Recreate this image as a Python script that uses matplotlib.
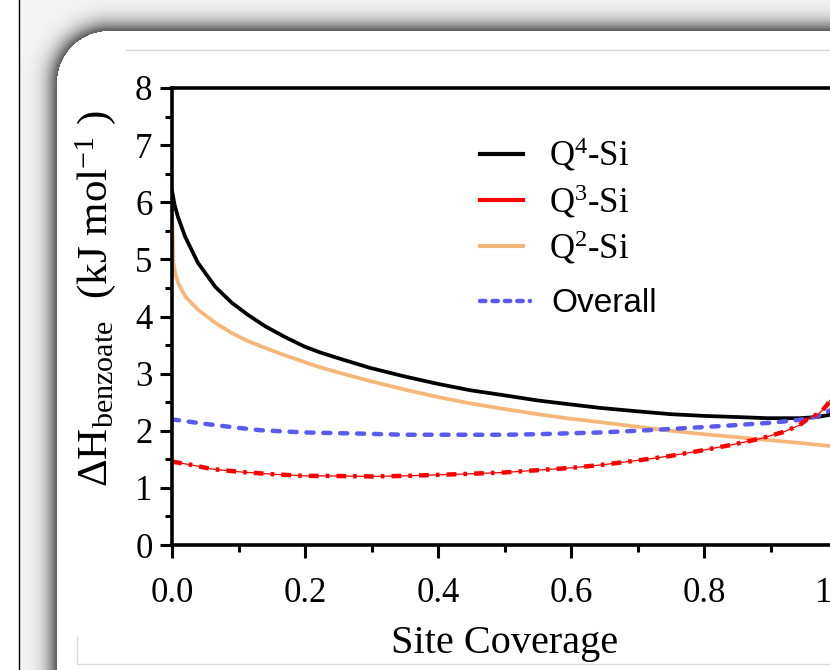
import numpy as np
import matplotlib
matplotlib.use("Agg")
import matplotlib.pyplot as plt
from matplotlib.lines import Line2D

plt.rcParams['font.family'] = ['Liberation Serif', 'DejaVu Serif']
plt.rcParams['mathtext.fontset'] = 'custom'
plt.rcParams['mathtext.rm'] = 'Liberation Serif'
plt.rcParams['mathtext.it'] = 'Liberation Serif:italic'

# values
q4_x = [0.0, 0.004, 0.009, 0.02, 0.039, 0.065, 0.09, 0.114, 0.14, 0.17, 0.2, 0.223,
        0.25, 0.298, 0.35, 0.4, 0.448, 0.5, 0.55, 0.6, 0.644, 0.7, 0.75, 0.8, 0.85,
        0.895, 0.944, 0.97, 0.99, 1.0]
q4_y = [6.2, 5.95, 5.74, 5.39, 4.94, 4.52, 4.24, 4.03, 3.83, 3.64, 3.47, 3.37,
        3.27, 3.10, 2.95, 2.82, 2.71, 2.62, 2.53, 2.46, 2.40, 2.34, 2.29, 2.26, 2.24,
        2.22, 2.22, 2.24, 2.28, 2.32]

q3_x = [0.0, 0.03, 0.06, 0.102, 0.15, 0.2, 0.233, 0.3, 0.35, 0.433, 0.5, 0.55, 0.6,
        0.644, 0.7, 0.75, 0.794, 0.84, 0.884, 0.92, 0.944, 0.955, 0.974, 0.985, 0.993, 1.0]
q3_y = [1.46, 1.40, 1.33, 1.28, 1.24, 1.21, 1.21, 1.20, 1.21, 1.24, 1.27, 1.31, 1.35,
        1.40, 1.48, 1.56, 1.65, 1.75, 1.86, 1.98, 2.10, 2.20, 2.31, 2.45, 2.6, 2.75]

q2_x = [0.0, 0.001, 0.002, 0.005, 0.009, 0.02, 0.039, 0.065, 0.09, 0.114, 0.14, 0.17,
        0.2, 0.223, 0.25, 0.298, 0.35, 0.4, 0.448, 0.5, 0.55, 0.6, 0.644, 0.7, 0.75,
        0.8, 0.884, 0.95, 1.0]
q2_y = [5.84, 5.40, 4.95, 4.75, 4.59, 4.35, 4.12, 3.89, 3.71, 3.57, 3.45, 3.32,
        3.20, 3.11, 3.02, 2.87, 2.72, 2.59, 2.48, 2.38, 2.29, 2.21, 2.15, 2.07, 2.00,
        1.94, 1.85, 1.78, 1.72]

ov_x = [0.0, 0.05, 0.1, 0.132, 0.2, 0.283, 0.35, 0.433, 0.5, 0.55, 0.644, 0.7, 0.794,
        0.85, 0.9, 0.944, 0.97, 0.99, 1.0]
ov_y = [2.20, 2.12, 2.05, 2.01, 1.97, 1.95, 1.93, 1.93, 1.93, 1.94, 1.97, 2.00, 2.06,
        2.10, 2.14, 2.19, 2.25, 2.36, 2.42]

x_ticks = [0.0, 0.2, 0.4, 0.6, 0.8, 1.0]
x_ticklabels = ['0.0', '0.2', '0.4', '0.6', '0.8', '1.0']
y_ticks = [0, 1, 2, 3, 4, 5, 6, 7, 8]

W, H = 830, 670
fig = plt.figure(figsize=(W / 100, H / 100), dpi=100)

# slide frame: shadowed rounded panel
bg = fig.add_axes([0, 0, 1, 1], zorder=0)
yy, xx = np.mgrid[0:H, 0:W] + 0.5
r = 52.0
qx = (57 + r) - xx
qy = (31 + r) - yy
d = np.hypot(np.maximum(qx, 0), np.maximum(qy, 0)) + np.minimum(np.maximum(qx, qy), 0) - r
shade = np.where(d <= 0, 255.0, 245 - 150 * np.exp(-(np.maximum(d, 0) / 11.0) ** 1.3))
shade[:, :19] = 255
img = np.dstack([shade, shade, shade]) / 255.0
bg.imshow(img, extent=(0, W, H, 0), interpolation='bilinear')
bg.plot([18.5, 18.5], [0, H], color='black', lw=1)
bg.plot([126, W], [49.5, 49.5], color='#d8d8d8', lw=1)
bg.plot([76.5, 76.5, W], [637, 663.5, 663.5], color='#d8d8d8', lw=1)
bg.set_xlim(0, W)
bg.set_ylim(H, 0)
bg.axis('off')

ax = fig.add_axes([172 / W, 1 - 545 / H, 665 / W, 457 / H], zorder=1)
ax.set_facecolor('none')

ax.plot(q4_x, q4_y, color='black', lw=2.7)
ax.plot(q2_x, q2_y, color='#f5b779', lw=2.7)
ax.plot(ov_x, ov_y, color='#5a5af2', lw=3.2, dashes=(1.6, 2.2), dash_capstyle='round')
ax.plot(q3_x, q3_y, color='red', lw=0.9)
ax.plot(q3_x, q3_y, color='red', lw=3.2, dashes=(2.2, 1.6, 0.8, 1.6))

ax.set_xlim(0, 1)
ax.set_ylim(0, 8)
ax.set_xticks(x_ticks)
ax.set_xticklabels(x_ticklabels)
ax.set_xticks(np.arange(0.1, 1.0, 0.2), minor=True)
ax.set_yticks(y_ticks)
ax.set_yticks(np.arange(0.5, 8, 1.0), minor=True)
ax.tick_params(which='both', direction='out', width=2.2, top=False, right=False)
ax.tick_params(which='major', length=9, labelsize=25)
ax.tick_params(axis='x', which='major', pad=14)
ax.tick_params(axis='y', which='major', pad=5)
ax.tick_params(which='minor', length=5)
for s in ax.spines.values():
    s.set_linewidth(2.6)

ax.set_xlabel('Site Coverage', fontsize=29)
ax.xaxis.set_label_coords(0.5, -0.175)
ax.set_ylabel(r'ΔH$_{\mathrm{benzoate}}$  (kJ mol$^{\mathrm{-1}}$ )', fontsize=31)
ax.yaxis.set_label_coords(-0.081, 0.54)

q_handles = [
    Line2D([], [], color='black', lw=3),
    Line2D([], [], color='red', lw=3),
    Line2D([], [], color='#f5b779', lw=3),
]
q_labels = ['Q$^{4}$-Si', 'Q$^{3}$-Si', 'Q$^{2}$-Si']
leg = ax.legend(q_handles, q_labels, loc='upper left',
                bbox_to_anchor=((480 - 172) / 665, (545 - 136) / 457),
                frameon=False, fontsize=25, handlelength=1.25, handletextpad=0.75,
                labelspacing=0.25, borderpad=0, borderaxespad=0)
ax.add_artist(leg)

ov_handle = Line2D([], [], color='#5a5af2', lw=3.2, dashes=(1.2, 1.6), dash_capstyle='round')
leg2 = ax.legend([ov_handle], ['Overall'], loc='center left',
                 bbox_to_anchor=((480 - 172) / 665, (545 - 304) / 457),
                 frameon=False, handlelength=1.5, handletextpad=0.65,
                 borderpad=0, borderaxespad=0,
                 prop={'family': ['Liberation Sans', 'DejaVu Sans'], 'size': 24})

fig.savefig('out.png', dpi=100)
